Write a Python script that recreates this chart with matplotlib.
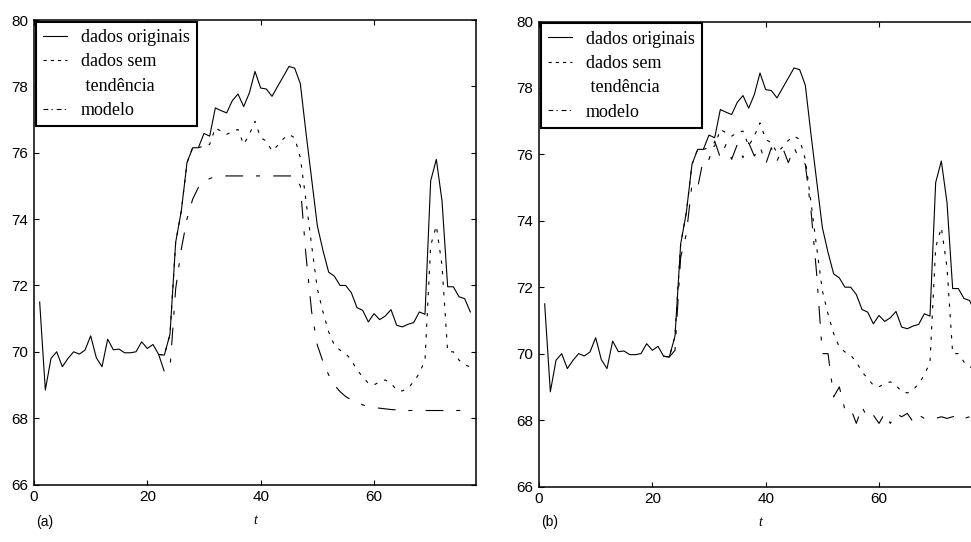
import matplotlib
matplotlib.use('Agg')
import matplotlib.pyplot as plt
from matplotlib.lines import Line2D
import numpy as np

plt.rcParams['font.family'] = 'Liberation Sans'

# original data, t = 1..77
t_orig = np.arange(1, 78)
orig = [71.5, 68.85, 69.8, 70.0, 69.55, 69.8, 70.0, 69.93, 70.05, 70.48,
        69.82, 69.55, 70.38, 70.06, 70.08, 69.97, 69.97, 70.0, 70.3, 70.1,
        70.22, 69.92, 69.9, 70.53, 73.3, 74.25, 75.7, 76.15, 76.15, 76.58,
        76.5, 77.35, 77.27, 77.2, 77.57, 77.77, 77.39, 77.8, 78.45, 77.95,
        77.92, 77.7, 78.0, 78.3, 78.6, 78.55, 78.08, 76.6, 75.2, 73.8,
        73.05, 72.4, 72.28, 72.0, 72.0, 71.78, 71.33, 71.25, 70.9, 71.15,
        70.97, 71.08, 71.27, 70.8, 70.75, 70.83, 70.88, 71.2, 71.13, 75.15,
        75.8, 74.55, 71.96, 71.96, 71.66, 71.6, 71.2]

# detrended data and models, t = 22..77
t_mod = np.arange(22, 78)
detrended = [69.92, 69.9, 70.53, 73.3, 74.25, 75.7, 76.15, 76.15, 76.2, 76.25,
             76.75, 76.65, 76.55, 76.65, 76.7, 76.25, 76.55, 76.95, 76.45, 76.35,
             76.05, 76.22, 76.42, 76.55, 76.45, 75.85, 74.55, 73.2, 71.9, 71.2,
             70.6, 70.2, 70.05, 69.95, 69.75, 69.45, 69.25, 69.05, 69.0, 69.1,
             69.15, 69.05, 68.85, 68.82, 68.9, 69.1, 69.35, 69.75, 73.2, 73.8,
             72.6, 70.0, 70.0, 69.75, 69.6, 69.55]
model_a = [69.92, 69.4, 69.5, 71.9, 73.1, 74.0, 74.6, 74.95, 75.12, 75.22,
           75.28, 75.3, 75.3, 75.3, 75.3, 75.3, 75.3, 75.3, 75.3, 75.3,
           75.3, 75.3, 75.3, 75.3, 75.3, 75.0, 72.9, 71.2, 70.2, 69.7,
           69.3, 69.0, 68.8, 68.65, 68.55, 68.47, 68.4, 68.35, 68.32, 68.3,
           68.28, 68.26, 68.25, 68.23, 68.23, 68.23, 68.23, 68.23, 68.23, 68.23,
           68.23, 68.23, 68.23, 68.23, 68.23, 68.23]
model_b = [69.92, 69.9, 70.1, 72.9, 73.6, 75.1, 75.0, 75.85, 75.85, 76.4,
           75.9, 76.3, 75.85, 76.3, 75.9, 76.35, 75.95, 76.25, 75.7, 76.2,
           75.8, 76.2, 75.75, 76.2, 75.85, 75.7, 74.3, 72.4, 70.0, 70.0,
           68.7, 69.0, 68.3, 68.35, 67.9, 68.4, 68.05, 68.15, 67.9, 68.2,
           67.9, 68.2, 68.1, 68.2, 67.95, 68.15, 68.05, 68.1, 68.05, 68.1,
           68.05, 68.1, 68.15, 68.05, 68.1, 68.05]

labels = ['dados originais', 'dados sem', ' tendência', 'modelo']
panels = ['(a)', '(b)']

fig = plt.figure(figsize=(9.71, 5.42), dpi=100)
ax_a = fig.add_axes([34 / 971, 57.5 / 542, 442 / 971, 464.5 / 542])
ax_b = fig.add_axes([539 / 971, 55.5 / 542, 442 / 971, 465 / 542])

lw = 0.8
for ax, model, tag in [(ax_a, model_a, panels[0]), (ax_b, model_b, panels[1])]:
    ax.plot(t_orig, orig, color='black', lw=lw)
    ax.plot(t_mod, detrended, color='black', lw=lw, dashes=(3, 6.5))
    ax.plot(t_mod, model, color='black', lw=lw, dashes=(16, 11.5, 3.6, 12))

    ax.set_xlim(0, 78)
    ax.set_ylim(66, 80)
    ax.set_xticks([0, 20, 40, 60])
    ax.set_yticks(np.arange(66, 81, 2))
    ax.tick_params(direction='in', top=True, right=True, length=3.6,
                   width=0.8, labelsize=11, pad=4)
    for s in ax.spines.values():
        s.set_linewidth(1.1)
    ax.set_xlabel('t', family='Liberation Serif', style='italic', fontsize=10,
                  labelpad=7)

    handles = [Line2D([], [], color='black', lw=lw),
               Line2D([], [], color='black', lw=lw, dashes=(2.9, 3.6)),
               Line2D([], [], linestyle='none'),
               Line2D([], [], color='black', lw=lw, dashes=(4.3, 2.9, 1.1, 3.6))]
    leg = ax.legend(handles, labels, loc='upper left', bbox_to_anchor=(0, 1),
                    borderaxespad=0.1, borderpad=0.4, labelspacing=0.41,
                    handlelength=1.3, handletextpad=0.8, fancybox=False,
                    framealpha=1, edgecolor='black',
                    prop={'family': 'Liberation Serif', 'size': 13})
    leg.get_frame().set_linewidth(1.5)

fig.text(36 / 971, 1 - 522 / 542, panels[0], fontsize=10, va='center')
fig.text(541 / 971, 1 - 522 / 542, panels[1], fontsize=10, va='center')

fig.savefig('out.png', dpi=100)
